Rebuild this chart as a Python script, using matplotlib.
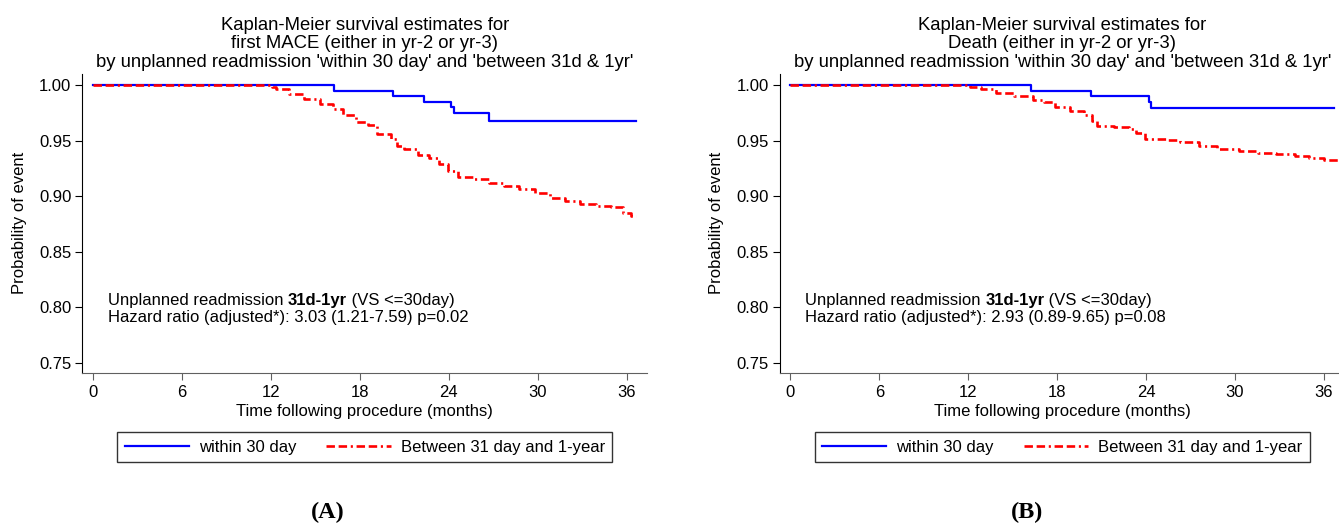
import matplotlib
matplotlib.use("Agg")
import matplotlib.pyplot as plt

plt.rcParams['font.family'] = ['Liberation Sans', 'DejaVu Sans']

# ---------------- data
# panel A: first MACE
a_within_t = [0, 16.27, 20.27, 22.34, 24.15, 24.36, 26.74, 36.64]
a_within_s = [1.000, 0.9949, 0.9898, 0.9847, 0.9799, 0.9748, 0.9678, 0.9678]
a_between_t = [0, 12.10, 12.34, 13.24, 14.27, 15.31, 16.21, 16.86, 17.77, 18.54,
               19.19, 20.09, 20.48, 21.00, 21.90, 22.68, 23.33, 23.97, 24.62,
               25.65, 26.69, 27.72, 28.76, 29.79, 30.82, 31.86, 32.89, 33.93,
               34.96, 35.74, 36.30, 36.64]
a_between_s = [1.000, 0.9980, 0.9964, 0.9919, 0.9874, 0.9829, 0.9784, 0.9733,
               0.9663, 0.9642, 0.9558, 0.9513, 0.9453, 0.9423, 0.9369, 0.9348,
               0.9288, 0.9228, 0.9177, 0.9153, 0.9123, 0.9093, 0.9063, 0.9026,
               0.8987, 0.8957, 0.8933, 0.8912, 0.8903, 0.8852, 0.8822, 0.8822]

# panel B: death
b_within_t = [0, 16.23, 20.29, 24.19, 24.31, 36.67]
b_within_s = [1.000, 0.9946, 0.9898, 0.9844, 0.9790, 0.9790]
b_between_t = [0, 12.13, 12.88, 13.87, 15.11, 16.36, 17.10, 17.85, 18.84, 19.84,
               20.33, 20.71, 21.83, 22.82, 23.32, 23.94, 25.31, 26.31, 27.55,
               28.79, 30.28, 31.53, 32.77, 34.02, 35.01, 36.00, 36.94]
b_between_s = [1.000, 0.9985, 0.9964, 0.9928, 0.9898, 0.9868, 0.9844, 0.9799,
               0.9769, 0.9730, 0.9678, 0.9633, 0.9618, 0.9603, 0.9564, 0.9513,
               0.9507, 0.9489, 0.9453, 0.9429, 0.9408, 0.9393, 0.9378, 0.9363,
               0.9348, 0.9327, 0.9309]

titles = ["Kaplan-Meier survival estimates for\nfirst MACE (either in yr-2 or yr-3)\n"
          "by unplanned readmission 'within 30 day' and 'between 31d & 1yr'",
          "Kaplan-Meier survival estimates for\nDeath (either in yr-2 or yr-3)\n"
          "by unplanned readmission 'within 30 day' and 'between 31d & 1yr'"]
hr_text = ["Hazard ratio (adjusted*): 3.03 (1.21-7.59) p=0.02",
           "Hazard ratio (adjusted*): 2.93 (0.89-9.65) p=0.08"]
panel_tags = ["(A)", "(B)"]
series = [(a_within_t, a_within_s, a_between_t, a_between_s),
          (b_within_t, b_within_s, b_between_t, b_between_s)]

xticks = [0, 6, 12, 18, 24, 30, 36]
yticks = [0.75, 0.80, 0.85, 0.90, 0.95, 1.00]

# ---------------- figure
fig = plt.figure(figsize=(13.39, 5.27), dpi=100)
W, H = 1339.0, 527.0
lefts = [82.3, 779.7]
tag_x = [328, 1027]

for i in range(2):
    ax = fig.add_axes([lefts[i] / W, (H - 372.7) / H, 565.0 / W, 298.7 / H])
    wt, ws, bt, bs = series[i]
    ax.step(wt, ws, where='post', color='#0000ff', lw=1.6, label='within 30 day', zorder=2)
    ax.step(bt, bs, where='post', color='#ff0000', lw=1.9,
            linestyle=(0, (3.2, 1.4, 3.2, 1.4, 0.8, 1.4)),
            label='Between 31 day and 1-year', zorder=3)

    ax.set_xlim(-0.72, 37.4)
    ax.set_ylim(0.7413, 1.0099)
    ax.set_xticks(xticks)
    ax.set_yticks(yticks)
    ax.set_yticklabels(['%.2f' % v for v in yticks])

    for s in ['top', 'right']:
        ax.spines[s].set_visible(False)
    ax.spines['left'].set_color('black')
    ax.spines['bottom'].set_color('#606060')
    ax.tick_params(axis='y', direction='out', length=4.8, pad=3, labelsize=12, colors='black')
    ax.tick_params(axis='x', direction='out', length=5, pad=4, labelsize=12,
                   color='#606060', labelcolor='black')

    ax.set_xlabel('Time following procedure (months)', fontsize=12, labelpad=3)
    ax.set_ylabel('Probability of event', fontsize=12, labelpad=9)
    ax.set_title(titles[i], fontsize=13.3, linespacing=1.12, pad=5)

    # hazard ratio annotation, bold group name
    t1 = ax.text(1.0, 0.8064, 'Unplanned readmission ', fontsize=12, va='center')
    t2 = ax.annotate('31d-1yr', xy=(1, 0), xycoords=t1, fontsize=12,
                     fontweight='bold', va='bottom')
    ax.annotate(' (VS <=30day)', xy=(1, 0), xycoords=t2, fontsize=12, va='bottom')
    ax.text(1.0, 0.7907, hr_text[i], fontsize=12, va='center')

    leg = ax.legend(loc='center', bbox_to_anchor=(0.5, -0.25), ncol=2, fontsize=12,
                    handlelength=3.85, handletextpad=0.6, columnspacing=1.8,
                    borderpad=0.45, fancybox=False, framealpha=1)
    leg.get_frame().set_edgecolor('#333333')
    leg.get_frame().set_linewidth(1.0)

    fig.text(tag_x[i] / W, 15.0 / H, panel_tags[i], fontsize=17.5, fontweight='bold',
             family='Liberation Serif', ha='center', va='center')

fig.savefig('out.png', dpi=100, facecolor='white')
